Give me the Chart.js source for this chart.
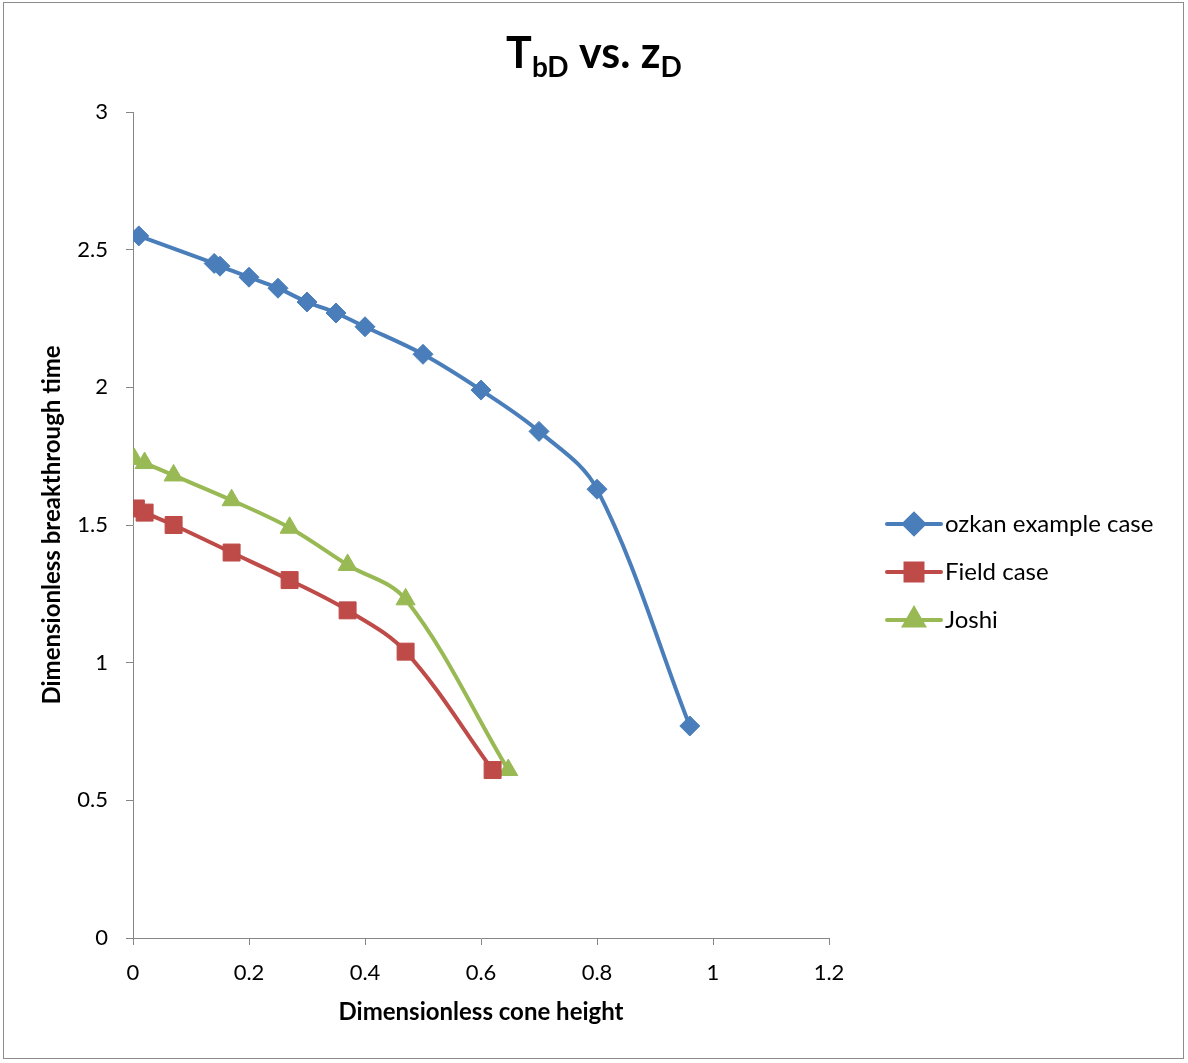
<!DOCTYPE html>
<html>
<head>
<meta charset="utf-8">
<script src="https://cdn.jsdelivr.net/npm/chart.js@4"></script>
<style>
  html, body { margin: 0; padding: 0; background: #fff; }
  #wrap { width: 1188px; height: 1063px; }
</style>
</head>
<body>
<div id="wrap"><canvas id="myChart" width="1188" height="1063"></canvas></div>
<script>
// series data: dimensionless cone height (x) vs breakthrough time (y)
var ozkanX = [0.01, 0.14, 0.15, 0.2, 0.25, 0.3, 0.35, 0.4, 0.5, 0.6, 0.7, 0.8, 0.96];
var ozkanY = [2.55, 2.45, 2.44, 2.40, 2.36, 2.31, 2.27, 2.22, 2.12, 1.99, 1.84, 1.63, 0.77];
var fieldX = [0.005, 0.02, 0.07, 0.17, 0.27, 0.37, 0.47, 0.62];
var fieldY = [1.56, 1.545, 1.50, 1.40, 1.30, 1.19, 1.04, 0.61];
var joshiX = [0.002, 0.02, 0.07, 0.17, 0.27, 0.37, 0.47, 0.647];
var joshiY = [1.74, 1.725, 1.68, 1.59, 1.49, 1.355, 1.23, 0.61];

var seriesNames = ['ozkan example case', 'Field case', 'Joshi'];
var xTicks = [0, 0.2, 0.4, 0.6, 0.8, 1, 1.2];
var yTicks = [0, 0.5, 1, 1.5, 2, 2.5, 3];

var FONT = 'Lato, "Open Sans", sans-serif';
var AXIS_COLOR = '#868686';

function toPoints(xs, ys) {
  var pts = [];
  for (var i = 0; i < xs.length; i++) pts.push({ x: xs[i], y: ys[i] });
  return pts;
}

function makeSeries(label, xs, ys, color, style, radius) {
  return {
    label: label,
    data: toPoints(xs, ys),
    borderColor: color,
    backgroundColor: color,
    borderWidth: 4,
    pointStyle: style,
    pointRadius: radius,
    pointHoverRadius: radius,
    pointBorderWidth: 1,
    tension: 0.35,
    showLine: true,
    fill: false
  };
}

// plain number labels: 3, 2.5, 1.2 ...
function plainLabel(value) {
  return String(Math.round(value * 10) / 10);
}

// title with subscripts, frame and legend drawn by hand
var decorPlugin = {
  id: 'decor',
  afterDraw: function(chart) {
    var ctx = chart.ctx;
    ctx.save();
    // outer frame
    ctx.strokeStyle = '#8c8c8c';
    ctx.lineWidth = 1;
    ctx.strokeRect(3.5, 2.5, 1180, 1056);

    // title
    var parts = [
      { t: 'T', size: 43, dy: 0 },
      { t: 'bD', size: 28, dy: 9 },
      { t: ' vs. z', size: 43, dy: 0 },
      { t: 'D', size: 28, dy: 9 }
    ];
    var total = 0;
    parts.forEach(function(p) {
      ctx.font = 'bold ' + p.size + 'px ' + FONT;
      p.w = ctx.measureText(p.t).width;
      total += p.w;
    });
    var x = 594 - total / 2;
    var baseY = 68;
    ctx.fillStyle = '#000';
    ctx.textBaseline = 'alphabetic';
    ctx.textAlign = 'left';
    parts.forEach(function(p) {
      ctx.font = 'bold ' + p.size + 'px ' + FONT;
      ctx.fillText(p.t, x, baseY + p.dy);
      x += p.w;
    });

    // legend
    var legendY = [524, 572, 620];
    chart.data.datasets.forEach(function(ds, i) {
      var y = legendY[i];
      ctx.strokeStyle = ds.borderColor;
      ctx.lineWidth = 4;
      ctx.lineCap = 'round';
      ctx.beginPath();
      ctx.moveTo(887, y);
      ctx.lineTo(941, y);
      ctx.stroke();
      Chart.helpers.drawPoint(ctx, {
        pointStyle: ds.pointStyle,
        radius: ds.pointRadius,
        rotation: 0,
        borderWidth: 1
      }, 914, y);
      ctx.fillStyle = ds.backgroundColor;
      ctx.fill();
      ctx.fillStyle = '#000';
      ctx.font = '24px ' + FONT;
      ctx.textBaseline = 'middle';
      ctx.fillText(ds.label, 945, y);
    });
    ctx.restore();
  }
};

var ctx = document.getElementById('myChart').getContext('2d');
var myChart = new Chart(ctx, {
  type: 'scatter',
  data: {
    datasets: [
      makeSeries(seriesNames[0], ozkanX, ozkanY, '#4A7EBB', 'rectRot', 10),
      makeSeries(seriesNames[1], fieldX, fieldY, '#BE4B48', 'rect', 12),
      makeSeries(seriesNames[2], joshiX, joshiY, '#98B954', 'triangle', 11)
    ]
  },
  options: {
    responsive: false,
    animation: false,
    events: [],
    layout: { padding: { top: 112, right: 359, bottom: 0, left: 0 } },
    plugins: {
      legend: { display: false },
      title: { display: false },
      tooltip: { enabled: false }
    },
    scales: {
      x: {
        type: 'linear',
        min: 0,
        max: 1.2,
        afterBuildTicks: function(scale) {
          scale.ticks = xTicks.map(function(v) { return { value: v }; });
        },
        afterFit: function(scale) { scale.height = 125; },
        grid: { drawOnChartArea: false, drawTicks: true, tickLength: 7, color: AXIS_COLOR },
        border: { display: true, color: AXIS_COLOR, width: 1 },
        ticks: { color: '#000', font: { family: FONT, size: 22 }, padding: 15, callback: plainLabel },
        title: {
          display: true,
          text: 'Dimensionless cone height',
          color: '#000',
          font: { family: FONT, size: 24, weight: 'bold' },
          padding: { top: 0, bottom: 36 }
        }
      },
      y: {
        type: 'linear',
        min: 0,
        max: 3,
        afterBuildTicks: function(scale) {
          scale.ticks = yTicks.map(function(v) { return { value: v }; });
        },
        afterFit: function(scale) { scale.width = 133; },
        grid: { drawOnChartArea: false, drawTicks: true, tickLength: 7, color: AXIS_COLOR },
        border: { display: true, color: AXIS_COLOR, width: 1 },
        ticks: { color: '#000', font: { family: FONT, size: 22 }, padding: 18, callback: plainLabel },
        title: {
          display: true,
          text: 'Dimensionless breakthrough time',
          color: '#000',
          font: { family: FONT, size: 24, weight: 'bold' },
          padding: { top: 38, bottom: 0 }
        }
      }
    }
  },
  plugins: [decorPlugin]
});
</script>
</body>
</html>
